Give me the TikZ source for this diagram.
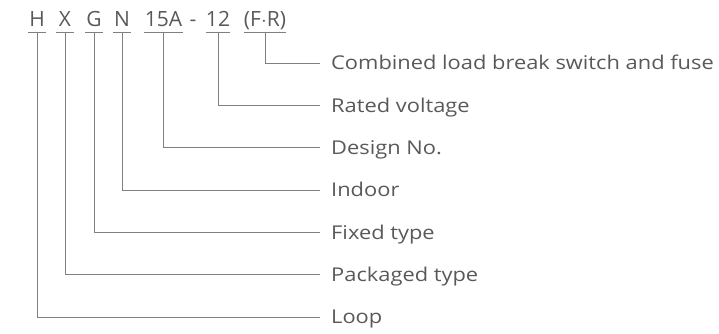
\documentclass[tikz,border=0pt]{standalone}
\usepackage{fontspec}
\setmainfont{Open Sans}
\newfontfamily\descfont[FakeStretch=1.15]{Open Sans}
\usepackage{tikz}
\usetikzlibrary{positioning}
\definecolor{txtgray}{HTML}{595959}
\definecolor{lngray}{HTML}{808080}

\begin{document}
\begin{tikzpicture}[%
x=1pt,y=-1pt,
codepart/.style={anchor=south, inner xsep=0pt, inner ysep=5pt, text height=15pt, text depth=0pt, font=\fontsize{21}{21}\selectfont, text=txtgray},
desc/.style={anchor=west, inner xsep=11pt, inner ysep=0pt, text height=13.4pt, text depth=0pt, font=\descfont\fontsize{19}{19}\selectfont, text=txtgray},
lead/.style={draw=lngray, line width=0.9pt}
]
\useasboundingbox (0,0) rectangle (719,334);
% model code
\node[codepart, minimum width=17.7pt] (cH) at (37,32) {H};
\node[codepart, minimum width=18pt] (cX) at (65,32) {X};
\node[codepart, minimum width=17.7pt] (cG) at (94,32) {G};
\node[codepart, minimum width=18pt] (cN) at (122,32) {N};
\node[codepart, minimum width=38.7pt] (c15A) at (163.4,32) {15A};
\node[codepart] (cdash) at (193,32) {-};
\node[codepart, minimum width=24.3pt] (c12) at (218,32) {12};
\node[codepart, minimum width=28.6pt] (cFR) at (265,32) {(F$\cdot$R)};
% meanings
\node[desc] (dFR) at (320,63) {Combined load break switch and fuse};
\node[desc] (d12) at (320,105.3) {Rated voltage};
\node[desc] (d15A) at (320,147.7) {Design No.};
\node[desc] (dN) at (320,190) {Indoor};
\node[desc] (dG) at (320,232.3) {Fixed type};
\node[desc] (dX) at (320,274.7) {Packaged type};
\node[desc] (dH) at (320,317) {Loop};
% underlines
\draw[lead] (cH.south west) -- (cH.south east);
\draw[lead] (cX.south west) -- (cX.south east);
\draw[lead] (cG.south west) -- (cG.south east);
\draw[lead] (cN.south west) -- (cN.south east);
\draw[lead] (c15A.south west) -- (c15A.south east);
\draw[lead] (c12.south west) -- (c12.south east);
\draw[lead] (cFR.south west) -- (cFR.south east);
% leaders
\draw[lead] (cFR.south) |- (dFR.west);
\draw[lead] (c12.south) |- (d12.west);
\draw[lead] (c15A.south) |- (d15A.west);
\draw[lead] (cN.south) |- (dN.west);
\draw[lead] (cG.south) |- (dG.west);
\draw[lead] (cX.south) |- (dX.west);
\draw[lead] (cH.south) |- (dH.west);
\end{tikzpicture}
\end{document}
